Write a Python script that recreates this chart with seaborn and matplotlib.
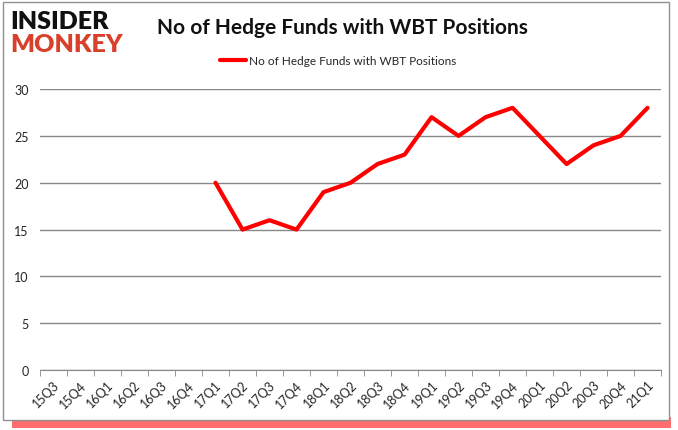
"""
No of Hedge Funds with WBT Positions - line chart
"""
import numpy as np
import pandas as pd
import matplotlib
matplotlib.use('Agg')
import matplotlib.pyplot as plt
import seaborn as sns
from matplotlib.patches import Rectangle

quarters = ['15Q3', '15Q4', '16Q1', '16Q2', '16Q3', '16Q4', '17Q1', '17Q2',
            '17Q3', '17Q4', '18Q1', '18Q2', '18Q3', '18Q4', '19Q1', '19Q2',
            '19Q3', '19Q4', '20Q1', '20Q2', '20Q3', '20Q4', '21Q1']
funds = [np.nan, np.nan, np.nan, np.nan, np.nan, np.nan, 20, 15,
         16, 15, 19, 20, 22, 23, 27, 25,
         27, 28, 25, 22, 24, 25, 28]
y_ticks = [0, 5, 10, 15, 20, 25, 30]
series_name = 'No of Hedge Funds with WBT Positions'

sns.set_style('white')
plt.rcParams['font.family'] = ['Lato', 'DejaVu Sans']

df = pd.DataFrame({'pos': np.arange(len(quarters)), 'funds': funds})

fig = plt.figure(figsize=(6.78, 4.31), dpi=100)

# frame with red shadow along the bottom
fig.patches.append(Rectangle((0.018, 0.005), 0.972, 0.025, transform=fig.transFigure,
                             facecolor='#ff3030', edgecolor='none', alpha=0.7, zorder=0))
fig.patches.append(Rectangle((0.004, 0.024), 0.982, 0.97, transform=fig.transFigure,
                             facecolor='white', edgecolor='#909090', lw=1, zorder=1))

ax = fig.add_axes([0.059, 0.139, 0.916, 0.652])
ax.set_zorder(3)
ax.set_facecolor('none')
sns.lineplot(data=df, x='pos', y='funds', color='#ff0000', linewidth=3,
             ax=ax, label=series_name)

ax.set_xlim(-0.5, len(quarters) - 0.5)
ax.set_ylim(0, 30)
ax.set_yticks(y_ticks)
ax.yaxis.grid(True, color='#888888', linewidth=1)
ax.set_axisbelow(True)
for s in ['top', 'right', 'left']:
    ax.spines[s].set_visible(False)
ax.spines['bottom'].set_color('#888888')

ax.set_xticks(np.arange(len(quarters)))
ax.set_xticklabels(quarters, rotation=45, ha='right', rotation_mode='anchor', fontsize=9)
ax.set_xticks(np.arange(-0.5, len(quarters)), minor=True)
ax.tick_params(axis='x', which='major', length=0, pad=6)
ax.tick_params(axis='x', which='minor', length=4, color='#888888', direction='out', bottom=True)
ax.tick_params(axis='y', length=0, labelsize=9, pad=8)
ax.set_xlabel('')
ax.set_ylabel('')

ax.legend(loc='upper center', bbox_to_anchor=(0.48, 1.16), frameon=False,
          fontsize=8.5, handlelength=2.2, handletextpad=0.3)

fig.text(0.505, 0.935, series_name, ha='center', va='center',
         fontsize=15, fontweight='bold', color='#111111', zorder=3)

# logo
fig.text(0.015, 0.95, 'INSIDER', ha='left', va='center', fontsize=18,
         fontweight='heavy', color='#111111', zorder=3)
fig.text(0.015, 0.895, 'MONKEY', ha='left', va='center', fontsize=18,
         fontweight='heavy', color='#d9402b', zorder=3)

fig.savefig('out.png', dpi=100)
